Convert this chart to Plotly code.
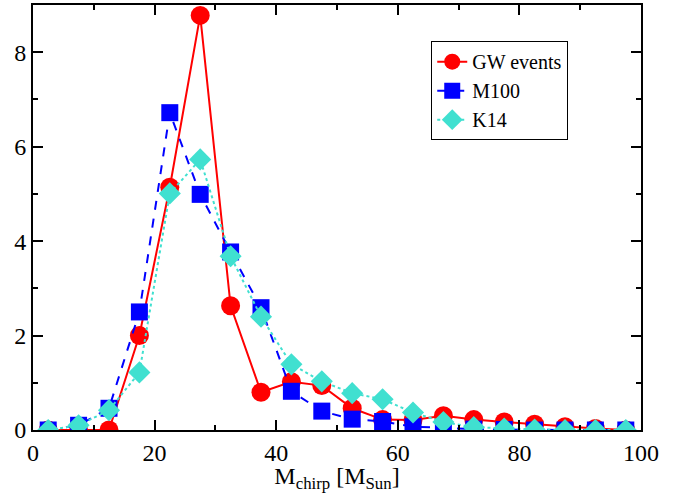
import plotly.graph_objects as go

mchirp = [2.5, 7.5, 12.5, 17.5, 22.5, 27.5, 32.5, 37.5, 42.5, 47.5,
          52.5, 57.5, 62.5, 67.5, 72.5, 77.5, 82.5, 87.5, 92.5, 97.5]
gw_events = [0.0, 0.0, 0.0, 2.0, 5.14, 8.78, 2.63, 0.8, 1.02, 0.94,
             0.46, 0.22, 0.21, 0.3, 0.22, 0.17, 0.12, 0.07, 0.03, 0.0]
m100 = [0.0, 0.1, 0.46, 2.5, 6.72, 4.99, 3.77, 2.59, 0.82, 0.4,
        0.23, 0.18, 0.07, 0.04, 0.02, 0.01, 0.0, 0.0, 0.0, 0.0]
k14 = [0.0, 0.1, 0.42, 1.22, 5.01, 5.73, 3.68, 2.4, 1.39, 1.03,
       0.78, 0.65, 0.37, 0.17, 0.06, 0.03, 0.01, 0.0, 0.0, 0.0]

FONT = "Liberation Serif"

fig = go.Figure()
fig.add_trace(go.Scatter(
    x=mchirp, y=gw_events, name="GW events", mode="lines+markers",
    line=dict(color="#ff0000", width=2),
    marker=dict(symbol="circle", size=19, color="#ff0000")))
fig.add_trace(go.Scatter(
    x=mchirp, y=m100, name="M100", mode="lines+markers",
    line=dict(color="#0000ff", width=2, dash="dash"),
    marker=dict(symbol="square", size=17, color="#0000ff")))
fig.add_trace(go.Scatter(
    x=mchirp, y=k14, name="K14", mode="lines+markers",
    line=dict(color="#40e0d0", width=2, dash="dot"),
    marker=dict(symbol="diamond", size=17, color="#40e0d0")))

fig.update_layout(
    width=686, height=493,
    margin=dict(l=33, r=45, t=3, b=63),
    paper_bgcolor="white", plot_bgcolor="white",
    font=dict(family=FONT, size=22, color="black"),
    showlegend=True,
    legend=dict(x=0.655, y=0.915, xanchor="left", yanchor="top",
                bordercolor="black", borderwidth=1, bgcolor="white",
                font=dict(family=FONT, size=20), tracegroupgap=0,
                itemsizing="trace"),
)
fig.update_xaxes(
    range=[0, 100], showgrid=False, zeroline=False,
    showline=True, linecolor="black", linewidth=2, mirror="ticks",
    ticks="inside", ticklen=10, tickcolor="black", tickwidth=1.5,
    tickmode="linear", tick0=0, dtick=20,
    minor=dict(ticks="inside", ticklen=5, dtick=10, tickcolor="black", tickwidth=1.5),
    tickfont=dict(family=FONT, size=24),
    title=dict(text="M<sub>chirp</sub> [M<sub>Sun</sub>]", font=dict(family=FONT, size=24), standoff=2),
)
fig.update_yaxes(
    range=[0, 9], showgrid=False, zeroline=False,
    showline=True, linecolor="black", linewidth=2, mirror="ticks",
    ticks="inside", ticklen=10, tickcolor="black", tickwidth=1.5,
    tickmode="linear", tick0=0, dtick=2,
    minor=dict(ticks="inside", ticklen=5, dtick=1, tickcolor="black", tickwidth=1.5),
    tickfont=dict(family=FONT, size=24),
)

fig.write_html("out.html")
